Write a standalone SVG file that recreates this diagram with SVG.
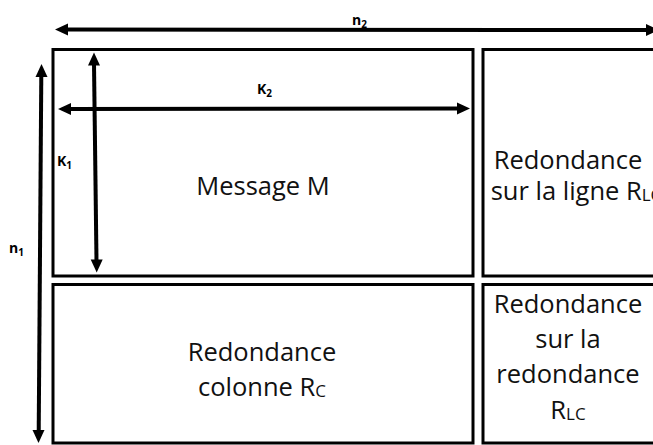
<svg xmlns="http://www.w3.org/2000/svg" width="653" height="445" viewBox="0 0 653 445">
  <style>
    .box { fill: #ffffff; stroke: #000000; stroke-width: 3; }
    .shaft { stroke: #000000; stroke-width: 4; fill: none; }
    .head { fill: #000000; }
    .txt { font-family: "Open Sans", "Noto Sans", sans-serif; font-size: 25.5px; fill: #111111; text-anchor: middle; }
    .lbl { font-family: "Open Sans", "Noto Sans", sans-serif; font-size: 14px; font-weight: bold; fill: #000000; }
    .sub { font-size: 10px; }
    .sc { font-size: 17px; }
  </style>
  <rect width="653" height="445" fill="#ffffff"/>

  <!-- blocks of the product code -->
  <g id="message">
    <rect class="box" x="53" y="49.5" width="420" height="226.5"/>
    <text class="txt" x="263" y="195">Message M</text>
  </g>
  <g id="redondance-ligne">
    <rect class="box" x="483" y="49.5" width="180" height="226.5"/>
    <text class="txt" x="568" y="169">Redondance</text>
    <text class="txt" x="576" y="200">sur la ligne R<tspan class="sc" dy="1">LC</tspan></text>
  </g>
  <g id="redondance-colonne">
    <rect class="box" x="53" y="284.5" width="420" height="158.5"/>
    <text class="txt" x="262" y="361">Redondance</text>
    <text class="txt" x="262" y="396">colonne R<tspan class="sc" dy="1">C</tspan></text>
  </g>
  <g id="redondance-redondance">
    <rect class="box" x="483" y="284.5" width="180" height="158.5"/>
    <text class="txt" x="568" y="313">Redondance</text>
    <text class="txt" x="568" y="348">sur la</text>
    <text class="txt" x="568" y="383">redondance</text>
    <text class="txt" x="568" y="419">R<tspan class="sc" dy="1">LC</tspan></text>
  </g>

  <!-- dimension arrows -->
  <g id="connectors">
    <!-- n2 : full width -->
    <line class="shaft" x1="66" y1="29.5" x2="648" y2="30"/>
    <polygon class="head" points="55,29.5 68,23.5 68,35.5"/>
    <polygon class="head" points="659,30 646,24 646,36"/>
    <!-- n1 : full height -->
    <line class="shaft" x1="41.3" y1="75" x2="38.7" y2="432"/>
    <polygon class="head" points="41.5,64 35.5,77 47.5,77"/>
    <polygon class="head" points="38.5,443 32.5,430 44.5,430"/>
    <!-- K2 : message width -->
    <line class="shaft" x1="69" y1="109" x2="459" y2="108.5"/>
    <polygon class="head" points="58,109 71,103 71,115"/>
    <polygon class="head" points="470,108.5 457,102.5 457,114.5"/>
    <!-- K1 : message height -->
    <line class="shaft" x1="94" y1="64" x2="96.5" y2="261"/>
    <polygon class="head" points="94,52.5 88,65.5 100,65.5"/>
    <polygon class="head" points="96.7,272.5 90.7,259.5 102.7,259.5"/>
  </g>

  <!-- dimension labels -->
  <g id="labels">
    <text class="lbl" x="352" y="25">n<tspan class="sub" dy="3">2</tspan></text>
    <text class="lbl" x="257" y="94">K<tspan class="sub" dy="3">2</tspan></text>
    <text class="lbl" x="57" y="166">K<tspan class="sub" dy="3">1</tspan></text>
    <text class="lbl" x="9" y="253">n<tspan class="sub" dy="3">1</tspan></text>
  </g>
</svg>
